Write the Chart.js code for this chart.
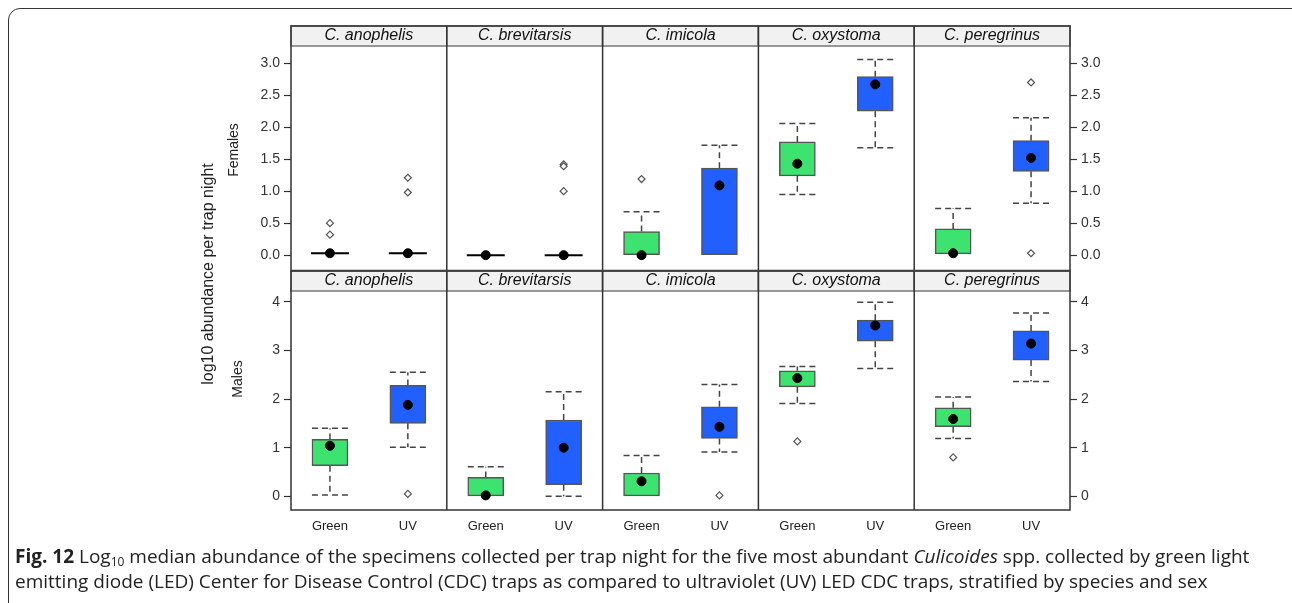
<!DOCTYPE html>
<html>
<head>
<meta charset="utf-8">
<script src="https://cdn.jsdelivr.net/npm/chart.js@4.4.1/dist/chart.umd.min.js"></script>
<style>
  html, body { margin: 0; padding: 0; background: #fff; }
  body { width: 1292px; height: 603px; position: relative; overflow: hidden; font-family: 'Liberation Sans', Arial, sans-serif; }
  canvas { position: absolute; left: 0; }
  #frame { position: absolute; left: 8px; top: 8px; width: 1320px; height: 620px; border: 1.5px solid #333; border-radius: 12px; box-sizing: border-box; }
  .rot { position: absolute; transform: translate(-50%, -50%) rotate(-90deg); white-space: nowrap; color: #222; }
  #caption { position: absolute; left: 15px; top: 544px; font-family: 'Open Sans', sans-serif; font-size: 19px; line-height: 25px; color: #222; white-space: nowrap; }
  #caption sub { font-size: 12px; line-height: 0; vertical-align: -3px; }
</style>
</head>
<body>
<div id="frame"></div>
<canvas id="females" width="1292" height="276" style="top:0"></canvas>
<canvas id="males" width="1292" height="290" style="top:260px"></canvas>
<div class="rot" style="left:208px; top:274px; font-size:16px;">log10 abundance per trap night</div>
<div class="rot" style="left:233px; top:150px; font-size:14px;">Females</div>
<div class="rot" style="left:237px; top:379px; font-size:14px;">Males</div>
<div id="caption"><b>Fig. 12</b> Log<sub>10</sub> median abundance of the specimens collected per trap night for the five most abundant <i>Culicoides</i> spp. collected by green light<br>emitting diode (LED) Center for Disease Control (CDC) traps as compared to ultraviolet (UV) LED CDC traps, stratified by species and sex</div>

<script>
// categories: each species has a Green and a UV trap
const species = ['C. anophelis', 'C. brevitarsis', 'C. imicola', 'C. oxystoma', 'C. peregrinus'];
const traps = ['Green', 'UV'];

// Females (log10 per trap night), order: species x trap
const femQ1 = [0.03, 0.03, 0, 0, 0, 0, 1.24, 2.25, 0.02, 1.31];
const femQ3 = [0.03, 0.03, 0, 0, 0.37, 1.36, 1.77, 2.79, 0.41, 1.79];
const femLow = [0.03, 0.03, 0, 0, 0, 0, 0.95, 1.68, 0.02, 0.81];
const femHigh = [0.03, 0.03, 0, 0, 0.68, 1.72, 2.06, 3.06, 0.73, 2.15];
const femMedian = [0.03, 0.03, 0, 0, 0, 1.09, 1.43, 2.67, 0.03, 1.52];
const femOutliers = [[0.32, 0.50], [0.98, 1.21], [], [1.0, 1.39, 1.42], [1.19], [], [], [], [], [0.03, 2.70]];
const femTicks = [0, 0.5, 1.0, 1.5, 2.0, 2.5, 3.0];

// Males
const maleQ1 = [0.63, 1.50, 0, 0.24, 0, 1.19, 2.25, 3.19, 1.43, 2.80];
const maleQ3 = [1.17, 2.28, 0.39, 1.57, 0.48, 1.84, 2.58, 3.62, 1.82, 3.40];
const maleLow = [0.03, 1.01, 0, 0, 0, 0.91, 1.91, 2.63, 1.19, 2.36];
const maleHigh = [1.40, 2.55, 0.61, 2.15, 0.84, 2.30, 2.67, 3.99, 2.04, 3.77];
const maleMedian = [1.04, 1.88, 0.02, 1.0, 0.31, 1.43, 2.43, 3.51, 1.59, 3.14];
const maleOutliers = [[], [0.05], [], [], [], [0.02], [1.13], [], [0.80], []];
const maleTicks = [0, 1, 2, 3, 4];

const FONT = "'Liberation Sans', Arial, sans-serif";
const GREEN = '#3ce46f';
const BLUE = '#2160ff';
const BOX_W = 36;

const labels = [];
species.forEach(() => traps.forEach(t => labels.push(t)));

function buildRow(canvasId, row) {
    const boxColors = labels.map(l => l === 'Green' ? GREEN : BLUE);
    const maxOut = Math.max(...row.outliers.map(o => o.length));
    const outlierSets = [];
    for (let k = 0; k < maxOut; k++) {
        outlierSets.push({
            type: 'line',
            data: row.outliers.map(o => o[k] !== undefined ? o[k] : null),
            showLine: false,
            pointStyle: 'rectRot',
            pointRadius: 3.5,
            pointBackgroundColor: '#fff',
            pointBorderColor: '#555',
            pointBorderWidth: 1.2,
            order: 0
        });
    }

    const panelPlugin = {
        id: 'panels',
        beforeDatasetsDraw(chart) {
            const ctx = chart.ctx;
            const xs = chart.scales.x, ys = chart.scales.y;
            ctx.save();
            labels.forEach((l, i) => {
                const x = xs.getPixelForValue(i);
                const half = BOX_W / 2;
                ctx.strokeStyle = '#444';
                ctx.lineWidth = 1.5;
                ctx.setLineDash([6, 4]);
                [[row.q3[i], row.high[i]], [row.q1[i], row.low[i]]].forEach(([edge, tip]) => {
                    if (Math.abs(tip - edge) < 0.005) return;
                    ctx.beginPath();
                    ctx.moveTo(x, ys.getPixelForValue(edge));
                    ctx.lineTo(x, ys.getPixelForValue(tip));
                    ctx.moveTo(x - half, ys.getPixelForValue(tip));
                    ctx.lineTo(x + half, ys.getPixelForValue(tip));
                    ctx.stroke();
                });
                ctx.setLineDash([]);
                if (row.q3[i] === row.q1[i]) {
                    ctx.strokeStyle = '#000';
                    ctx.lineWidth = 2;
                    ctx.beginPath();
                    ctx.moveTo(x - half - 1, ys.getPixelForValue(row.q1[i]));
                    ctx.lineTo(x + half + 1, ys.getPixelForValue(row.q1[i]));
                    ctx.stroke();
                }
            });
            ctx.restore();
        },
        afterDraw(chart) {
            const ctx = chart.ctx;
            const a = chart.chartArea;
            const xs = chart.scales.x;
            const bounds = [a.left];
            for (let s = 1; s < species.length; s++) {
                bounds.push((xs.getPixelForValue(2 * s - 1) + xs.getPixelForValue(2 * s)) / 2);
            }
            bounds.push(a.right);
            ctx.save();
            ctx.lineWidth = 1.5;
            // strips
            species.forEach((sp, s) => {
                const x0 = bounds[s], x1 = bounds[s + 1];
                ctx.fillStyle = '#f1f1f1';
                ctx.fillRect(x0, a.top - 20, x1 - x0, 20);
                ctx.strokeStyle = '#777';
                ctx.strokeRect(x0, a.top - 20, x1 - x0, 20);
                ctx.fillStyle = '#111';
                ctx.font = 'italic 16px ' + FONT;
                ctx.textAlign = 'center';
                ctx.textBaseline = 'middle';
                ctx.fillText(sp, (x0 + x1) / 2, a.top - 10);
            });
            ctx.strokeStyle = '#333';
            // panel separators and frame
            for (let s = 1; s < species.length; s++) {
                ctx.beginPath();
                ctx.moveTo(bounds[s], a.top - 20);
                ctx.lineTo(bounds[s], a.bottom);
                ctx.stroke();
            }
            ctx.strokeRect(a.left, a.top - 20, a.right - a.left, a.bottom - a.top + 20);
            ctx.restore();
        }
    };

    const yAxis = (pos, width) => ({
        type: 'linear',
        position: pos,
        min: row.min,
        max: row.max,
        border: { display: false },
        grid: { drawOnChartArea: false, tickLength: 7, tickColor: '#333', tickWidth: 1.2 },
        ticks: {
            color: '#333',
            font: { family: FONT, size: 14 },
            padding: 4,
            callback: v => row.fmt(v)
        },
        afterBuildTicks: axis => { axis.ticks = row.ticks.map(v => ({ value: v })); },
        afterFit: axis => {
            axis.width = width;
            axis.paddingTop = 0;
            axis.paddingBottom = 0;
        }
    });

    return new Chart(document.getElementById(canvasId), {
        data: {
            labels: labels,
            datasets: [
                {
                    type: 'bar',
                    data: row.q1.map((v, i) => [v, row.q3[i]]),
                    backgroundColor: boxColors,
                    borderColor: '#555',
                    borderWidth: 1.5,
                    borderSkipped: false,
                    barThickness: BOX_W,
                    order: 2
                },
                {
                    type: 'line',
                    data: row.median,
                    showLine: false,
                    pointRadius: 4.5,
                    pointBackgroundColor: '#000',
                    pointBorderColor: '#000',
                    order: 0
                },
                ...outlierSets
            ]
        },
        options: {
            responsive: false,
            animation: false,
            devicePixelRatio: 1,
            layout: { padding: { left: 0, right: 0, top: row.padTop, bottom: row.padBottom } },
            plugins: { legend: { display: false }, tooltip: { enabled: false } },
            scales: {
                x: {
                    type: 'category',
                    display: row.showX,
                    offset: true,
                    border: { display: false },
                    grid: { display: false },
                    ticks: { color: '#222', font: { family: FONT, size: 13 }, padding: 1 },
                    afterFit: axis => { axis.height = row.xHeight; }
                },
                y: yAxis('left', 291),
                y2: yAxis('right', 222)
            }
        },
        plugins: [panelPlugin]
    });
}

buildRow('females', {
    q1: femQ1, q3: femQ3, low: femLow, high: femHigh, median: femMedian, outliers: femOutliers,
    ticks: femTicks, min: -0.24, max: 3.27, fmt: v => v.toFixed(1),
    padTop: 46, padBottom: 2, showX: false, xHeight: 0
});

buildRow('males', {
    q1: maleQ1, q3: maleQ3, low: maleLow, high: maleHigh, median: maleMedian, outliers: maleOutliers,
    ticks: maleTicks, min: -0.28, max: 4.22, fmt: v => String(v),
    padTop: 31, padBottom: 0, showX: true, xHeight: 40
});
</script>
</body>
</html>
